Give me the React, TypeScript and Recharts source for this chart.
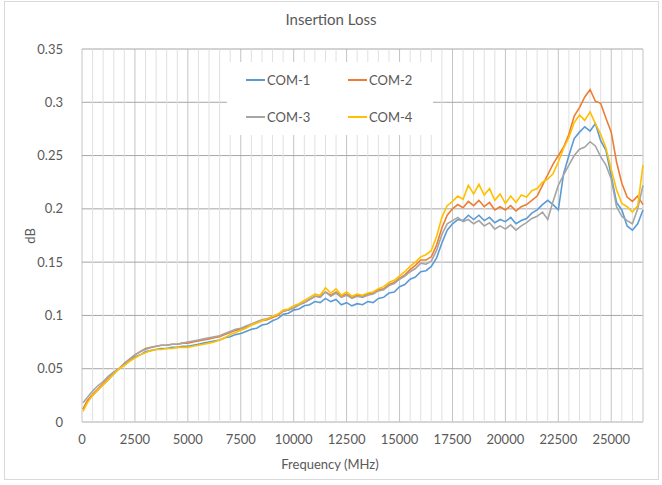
import {
  LineChart,
  Line,
  XAxis,
  YAxis,
  CartesianGrid,
  ReferenceLine,
  Legend,
} from 'recharts'

// frequency points (MHz)
const freqMHz = [
  50, 250, 500, 750, 1000, 1250, 1500, 1750, 2000, 2250, 2500, 2750, 3000, 3250, 3500, 3750,
  4000, 4250, 4500, 4750, 5000, 5250, 5500, 5750, 6000, 6250, 6500, 6750, 7000, 7250, 7500,
  7750, 8000, 8250, 8500, 8750, 9000, 9250, 9500, 9750, 10000, 10250, 10500, 10750, 11000,
  11250, 11500, 11750, 12000, 12250, 12500, 12750, 13000, 13250, 13500, 13750, 14000, 14250,
  14500, 14750, 15000, 15250, 15500, 15750, 16000, 16250, 16500, 16750, 17000, 17250, 17500,
  17750, 18000, 18250, 18500, 18750, 19000, 19250, 19500, 19750, 20000, 20250, 20500, 20750,
  21000, 21250, 21500, 21750, 22000, 22250, 22500, 22750, 23000, 23250, 23500, 23750, 24000,
  24250, 24500, 24750, 25000, 25250, 25500, 25750, 26000, 26250, 26500,
]

const com1 = [
  0.012, 0.019, 0.025, 0.030, 0.035, 0.040, 0.045, 0.050, 0.054, 0.058, 0.061, 0.063, 0.066,
  0.067, 0.068, 0.069, 0.069, 0.070, 0.070, 0.071, 0.071, 0.072, 0.073, 0.074, 0.075, 0.076,
  0.077, 0.079, 0.080, 0.082, 0.083, 0.085, 0.087, 0.088, 0.091, 0.092, 0.095, 0.097, 0.101,
  0.102, 0.105, 0.106, 0.109, 0.110, 0.113, 0.112, 0.116, 0.113, 0.115, 0.110, 0.112, 0.109,
  0.111, 0.110, 0.113, 0.112, 0.116, 0.117, 0.121, 0.122, 0.127, 0.129, 0.134, 0.136, 0.141,
  0.142, 0.146, 0.154, 0.168, 0.180, 0.186, 0.190, 0.189, 0.194, 0.190, 0.194, 0.189, 0.192,
  0.187, 0.190, 0.188, 0.192, 0.186, 0.189, 0.191, 0.196, 0.199, 0.204, 0.208, 0.204, 0.199,
  0.233, 0.250, 0.266, 0.272, 0.277, 0.273, 0.280, 0.264, 0.255, 0.231, 0.206, 0.199, 0.184,
  0.180, 0.186, 0.199,
]

const com2 = [
  0.012, 0.020, 0.026, 0.031, 0.036, 0.041, 0.046, 0.050, 0.055, 0.059, 0.063, 0.066, 0.069,
  0.070, 0.071, 0.072, 0.072, 0.073, 0.073, 0.074, 0.074, 0.075, 0.076, 0.077, 0.078, 0.079,
  0.080, 0.082, 0.084, 0.086, 0.087, 0.089, 0.091, 0.093, 0.095, 0.096, 0.098, 0.100, 0.104,
  0.105, 0.107, 0.110, 0.112, 0.115, 0.118, 0.118, 0.122, 0.119, 0.122, 0.118, 0.120, 0.117,
  0.119, 0.118, 0.120, 0.121, 0.124, 0.125, 0.129, 0.131, 0.135, 0.138, 0.143, 0.147, 0.152,
  0.152, 0.155, 0.166, 0.182, 0.194, 0.200, 0.204, 0.201, 0.207, 0.203, 0.208, 0.202, 0.206,
  0.199, 0.202, 0.199, 0.203, 0.198, 0.202, 0.204, 0.208, 0.212, 0.222, 0.232, 0.242, 0.250,
  0.258, 0.270, 0.287, 0.295, 0.305, 0.312, 0.301, 0.299, 0.285, 0.272, 0.244, 0.224, 0.211,
  0.207, 0.212, 0.204,
]

const com3 = [
  0.018, 0.023, 0.029, 0.034, 0.038, 0.043, 0.047, 0.050, 0.055, 0.059, 0.063, 0.066, 0.068,
  0.070, 0.071, 0.072, 0.072, 0.073, 0.073, 0.074, 0.075, 0.076, 0.077, 0.078, 0.079, 0.080,
  0.081, 0.083, 0.085, 0.087, 0.088, 0.090, 0.092, 0.094, 0.096, 0.097, 0.099, 0.101, 0.104,
  0.105, 0.107, 0.110, 0.112, 0.115, 0.118, 0.117, 0.122, 0.118, 0.121, 0.117, 0.119, 0.116,
  0.118, 0.117, 0.119, 0.120, 0.123, 0.124, 0.128, 0.130, 0.134, 0.137, 0.141, 0.144, 0.149,
  0.148, 0.151, 0.161, 0.176, 0.186, 0.189, 0.192, 0.188, 0.190, 0.186, 0.189, 0.184, 0.187,
  0.181, 0.184, 0.181, 0.185, 0.180, 0.184, 0.187, 0.191, 0.193, 0.197, 0.190, 0.207, 0.222,
  0.232, 0.241, 0.250, 0.256, 0.258, 0.263, 0.259, 0.249, 0.241, 0.228, 0.202, 0.193, 0.189,
  0.186, 0.200, 0.222,
]

const com4 = [
  0.010, 0.018, 0.025, 0.030, 0.035, 0.040, 0.045, 0.050, 0.053, 0.057, 0.060, 0.063, 0.065,
  0.067, 0.068, 0.068, 0.069, 0.069, 0.070, 0.070, 0.070, 0.071, 0.072, 0.073, 0.074, 0.075,
  0.077, 0.079, 0.082, 0.084, 0.086, 0.088, 0.091, 0.093, 0.095, 0.097, 0.099, 0.101, 0.105,
  0.106, 0.109, 0.111, 0.114, 0.117, 0.120, 0.119, 0.126, 0.121, 0.125, 0.119, 0.122, 0.118,
  0.120, 0.119, 0.121, 0.122, 0.125, 0.127, 0.131, 0.133, 0.137, 0.141, 0.146, 0.150, 0.155,
  0.157, 0.161, 0.174, 0.192, 0.203, 0.207, 0.212, 0.209, 0.222, 0.214, 0.223, 0.213, 0.219,
  0.208, 0.214, 0.205, 0.212, 0.206, 0.213, 0.211, 0.217, 0.219, 0.225, 0.228, 0.233, 0.244,
  0.257, 0.267, 0.281, 0.288, 0.283, 0.291, 0.280, 0.270, 0.257, 0.237, 0.218, 0.205, 0.202,
  0.197, 0.203, 0.241,
]

const xTicks = [0, 2500, 5000, 7500, 10000, 12500, 15000, 17500, 20000, 22500, 25000]
const yTicks = [0, 0.05, 0.1, 0.15, 0.2, 0.25, 0.3, 0.35]
// minor vertical gridlines every 500 MHz
const minorX = Array.from({ length: 54 }, (_, i) => i * 500).filter(v => v % 2500 !== 0)

const series = [
  { key: 'com1', name: 'COM-1', color: '#5B9BD5', values: com1 },
  { key: 'com2', name: 'COM-2', color: '#ED7D31', values: com2 },
  { key: 'com3', name: 'COM-3', color: '#A5A5A5', values: com3 },
  { key: 'com4', name: 'COM-4', color: '#FFC000', values: com4 },
]

const data = freqMHz.map((f, i) => {
  const row: Record<string, number> = { f }
  series.forEach(s => (row[s.key] = s.values[i]))
  return row
})

const FONT = 'Lato, "Open Sans", sans-serif'
const TEXT = '#595959'

const LegendBox = () => (
  <div
    style={{
      width: 206,
      height: 73,
      background: '#fff',
      display: 'grid',
      gridTemplateColumns: '102px 104px',
      gridTemplateRows: '36px 37px',
      fontFamily: FONT,
      fontSize: 13,
      color: TEXT,
    }}
  >
    {series.map(s => (
      <div key={s.key} style={{ display: 'flex', alignItems: 'center', paddingLeft: 19 }}>
        <span style={{ width: 19, height: 2, background: s.color, marginRight: 2 }} />
        {s.name}
      </div>
    ))}
  </div>
)

export default function App() {
  return (
    <div style={{ position: 'absolute', left: 0, top: 0, width: 662, height: 485, background: '#fff' }}>
      <div
        style={{
          position: 'absolute',
          left: 4,
          top: 1,
          width: 655,
          height: 479,
          border: '1px solid #d9d9d9',
          boxSizing: 'border-box',
        }}
      />
      <div
        style={{
          position: 'absolute',
          left: 0,
          width: 662,
          top: 10,
          textAlign: 'center',
          fontFamily: FONT,
          fontSize: 15,
          color: TEXT,
        }}
      >
        Insertion Loss
      </div>
      <div
        style={{
          position: 'absolute',
          left: 230,
          width: 200,
          top: 456,
          textAlign: 'center',
          fontFamily: FONT,
          fontSize: 13,
          color: TEXT,
        }}
      >
        Frequency (MHz)
      </div>
      <div
        style={{
          position: 'absolute',
          left: 30,
          top: 236,
          transform: 'translate(-50%, -50%) rotate(-90deg)',
          fontFamily: FONT,
          fontSize: 13,
          color: TEXT,
        }}
      >
        dB
      </div>
      <LineChart
        width={662}
        height={485}
        data={data}
        margin={{ top: 49, right: 19, left: 22, bottom: 33 }}
        style={{ position: 'absolute', left: 0, top: 0 }}
      >
        {minorX.map(v => (
          <ReferenceLine key={v} x={v} stroke="#e0e0e0" strokeWidth={1} ifOverflow="visible" />
        ))}
        <CartesianGrid horizontal={false} stroke="#c4c4c4" />
        <CartesianGrid vertical={false} stroke="#a6a6a6" />
        <XAxis
          dataKey="f"
          type="number"
          domain={[0, 26500]}
          ticks={xTicks}
          interval={0}
          height={30}
          tickSize={0}
          tickMargin={13}
          axisLine={{ stroke: '#d9d9d9' }}
          tickLine={false}
          tick={{ fill: TEXT, fontSize: 13, fontFamily: FONT }}
        />
        <YAxis
          domain={[0, 0.35]}
          ticks={yTicks}
          interval={0}
          width={60}
          tickSize={0}
          tickMargin={19}
          axisLine={false}
          tickLine={false}
          tick={{ fill: TEXT, fontSize: 13, fontFamily: FONT }}
        />
        <Legend
          layout="horizontal"
          verticalAlign="middle"
          align="center"
          content={() => <LegendBox />}
          wrapperStyle={{ left: 227, top: 62, width: 206, height: 73 }}
        />
        {series.map(s => (
          <Line
            key={s.key}
            type="linear"
            dataKey={s.key}
            name={s.name}
            stroke={s.color}
            strokeWidth={1.6}
            dot={false}
            isAnimationActive={false}
          />
        ))}
      </LineChart>
    </div>
  )
}
